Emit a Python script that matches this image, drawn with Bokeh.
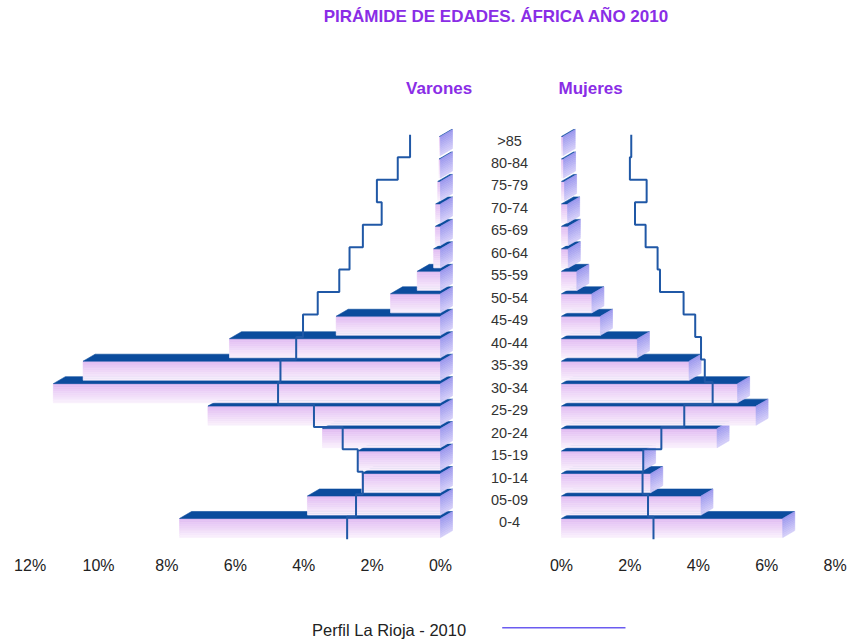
from bokeh.plotting import figure
from bokeh.models import Range1d, ColumnDataSource
from bokeh.core.properties import value
from bokeh.embed import file_html
from bokeh.resources import INLINE

# ---------------- data ----------------
AGE_GROUPS = ["0-4", "05-09", "10-14", "15-19", "20-24", "25-29", "30-34", "35-39",
              "40-44", "45-49", "50-54", "55-59", "60-64", "65-69", "70-74", "75-79",
              "80-84", ">85"]
AFRICA_VARONES = [7.63, 3.89, 2.30, 2.42, 3.45, 6.80, 11.32, 10.45, 6.17, 3.05,
                  1.46, 0.68, 0.20, 0.15, 0.14, 0.08, 0.04, 0.03]
AFRICA_MUJERES = [6.47, 4.08, 2.61, 2.40, 4.55, 5.69, 5.15, 3.73, 2.22, 1.14,
                  0.89, 0.45, 0.20, 0.20, 0.18, 0.09, 0.06, 0.05]
RIOJA_VARONES = [2.73, 2.47, 2.27, 2.42, 2.86, 3.70, 4.75, 4.68, 4.22, 4.02,
                 3.59, 2.96, 2.66, 2.27, 1.72, 1.86, 1.25, 0.89]
RIOJA_MUJERES = [2.69, 2.53, 2.37, 2.39, 2.92, 3.59, 4.42, 4.19, 4.08, 3.91,
                 3.57, 2.88, 2.81, 2.46, 2.15, 2.49, 2.00, 2.04]
TICKS_VARONES = [12, 10, 8, 6, 4, 2, 0]
TICKS_MUJERES = [0, 2, 4, 6, 8]

TITLE = "PIRÁMIDE DE EDADES. ÁFRICA AÑO 2010"
LEFT_TITLE = "Varones"
RIGHT_TITLE = "Mujeres"
LEGEND_LABEL = "Perfil La Rioja - 2010"

# ---------------- layout / style ----------------
GAP = 1.769          # half gap between the two pyramids (in % units)
DX = 0.351           # 3D depth, x (in % units)
DY = 0.31            # 3D depth, y (in group units)
HALF_H = 0.425       # half height of bar front face
FONT = value("Liberation Sans")
PURPLE = "#8A2DE6"
LINE_BLUE = "#2058A6"
TOP_BLUE = "#0B4C9D"
N_STRIPES = 10


def ramp(c0, c1, n):
    a = [int(c0[i:i + 2], 16) for i in (1, 3, 5)]
    b = [int(c1[i:i + 2], 16) for i in (1, 3, 5)]
    out = []
    for k in range(n):
        t = k / (n - 1)
        out.append("#%02X%02X%02X" % tuple(round(a[j] + (b[j] - a[j]) * t) for j in range(3)))
    return out


FRONT_COLORS = ramp("#E2BDF3", "#F8EEFC", N_STRIPES)
SIDE_COLORS = ramp("#9C98EE", "#D2CCF8", N_STRIPES)

p = figure(width=847, height=641,
           x_range=Range1d(-14.635, 10.132), y_range=Range1d(-5.051, 23.476),
           x_axis_type=None, y_axis_type=None,
           output_backend="svg", toolbar_location=None,
           min_border=0, outline_line_color=None)
p.grid.visible = False
p.background_fill_color = "white"

# ---------------- 3D bars as polygons ----------------
xs, ys, colors = [], [], []


def add_bar(x_left, x_right, yc, sx):
    yb, yt = yc - HALF_H, yc + HALF_H
    h = (yt - yb) / N_STRIPES
    # front face (vertical gradient stripes)
    for k, c in enumerate(FRONT_COLORS):
        y1 = yt - k * h
        y0 = y1 - h
        xs.append([x_left, x_right, x_right, x_left])
        ys.append([y0, y0, y1, y1])
        colors.append(c)
    # top face
    xs.append([x_left, x_right, x_right + DX, x_left + DX])
    ys.append([yt, yt, yt + DY, yt + DY])
    colors.append(TOP_BLUE)
    # side face at right end
    for k, c in enumerate(SIDE_COLORS):
        y1 = yt - k * h
        y0 = y1 - h
        xs.append([sx, sx, sx + DX, sx + DX])
        ys.append([y0, y1, y1 + DY, y0 + DY])
        colors.append(c)


for i in range(len(AGE_GROUPS)):
    vm = AFRICA_VARONES[i]
    add_bar(-(GAP + vm), -GAP, i, -GAP)
    vf = AFRICA_MUJERES[i]
    add_bar(GAP, GAP + vf, i, GAP + vf)

bars = ColumnDataSource(dict(xs=xs, ys=ys, color=colors))
p.patches("xs", "ys", source=bars, fill_color="color", line_color="color",
          line_width=0.6)

# ---------------- La Rioja step profile ----------------
lx, ly = [], []
for i, v in enumerate(RIOJA_VARONES):
    lx += [-(GAP + v), -(GAP + v)]
    ly += [i - 0.5, i + 0.5]
p.line(lx, ly, line_color=LINE_BLUE, line_width=2)

rx, ry = [], []
for i, v in enumerate(RIOJA_MUJERES):
    rx += [GAP + v, GAP + v]
    ry += [i - 0.5, i + 0.5]
p.line(rx, ry, line_color=LINE_BLUE, line_width=2)

# ---------------- texts ----------------
p.text(x=[0.25] * len(AGE_GROUPS), y=[i + 0.245 for i in range(len(AGE_GROUPS))],
       text=AGE_GROUPS, text_font=FONT, text_font_size=value("14.5px"),
       text_color="#333333", text_align="center", text_baseline="middle")

tick_x = [-(GAP + t) for t in TICKS_VARONES] + [GAP + t for t in TICKS_MUJERES]
tick_text = [f"{t}%" for t in TICKS_VARONES] + [f"{t}%" for t in TICKS_MUJERES]
p.text(x=tick_x, y=[-1.67] * len(tick_x), text=tick_text, text_font=FONT,
       text_font_size=value("16px"), text_color="#222222",
       text_align="center", text_baseline="middle")

p.text(x=[-0.13], y=[22.76], text=[TITLE], text_font=FONT,
       text_font_size=value("17px"), text_font_style="bold", text_color=PURPLE,
       text_align="center", text_baseline="middle")
p.text(x=[-1.81, 2.62], y=[19.56, 19.56], text=[LEFT_TITLE, RIGHT_TITLE],
       text_font=FONT, text_font_size=value("17px"), text_font_style="bold",
       text_color=PURPLE, text_align="center", text_baseline="middle")

# legend
p.text(x=[-1.02], y=[-4.56], text=[LEGEND_LABEL], text_font=FONT,
       text_font_size=value("16.5px"), text_color="#222222",
       text_align="right", text_baseline="middle")
p.line([0.035, 3.64], [-4.44, -4.44], line_color="#6B5CF0", line_width=1.5)

open("out.html", "w").write(file_html(p, INLINE))
